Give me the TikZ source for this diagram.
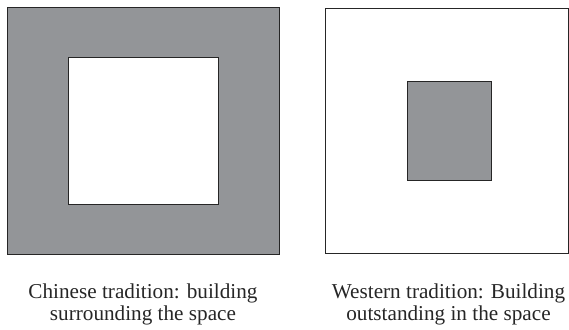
\documentclass[tikz,border=0pt]{standalone}
\usepackage{fontspec}
\setmainfont{Liberation Serif}
\definecolor{bldg}{HTML}{939598}
\tikzset{
  frame/.style={draw=black!85, line width=0.9pt},
  caption/.style={anchor=base, font=\fontsize{21.2}{22}\selectfont, text=black!85, inner sep=0pt}
}
\begin{document}
\begin{tikzpicture}[x=1pt,y=1pt]
\useasboundingbox (0,0) rectangle (569,-329);
% left: Chinese
\path[frame, fill=bldg] (7,-7) rectangle (279,-254);
\path[frame, fill=white] (68,-57) rectangle (218,-204);
% right: Western
\path[frame, fill=white] (325,-8) rectangle (568,-253);
\path[frame, fill=bldg] (407,-81) rectangle (491,-180);
\node[caption] (cl1) at (143,-298) {Chinese tradition: building};
\node[caption] (cl2) at (143,-320) {surrounding the space};
\node[caption] (cr1) at (448.5,-298) {Western tradition: Building};
\node[caption] (cr2) at (448.5,-320) {outstanding in the space};
\end{tikzpicture}
\end{document}
